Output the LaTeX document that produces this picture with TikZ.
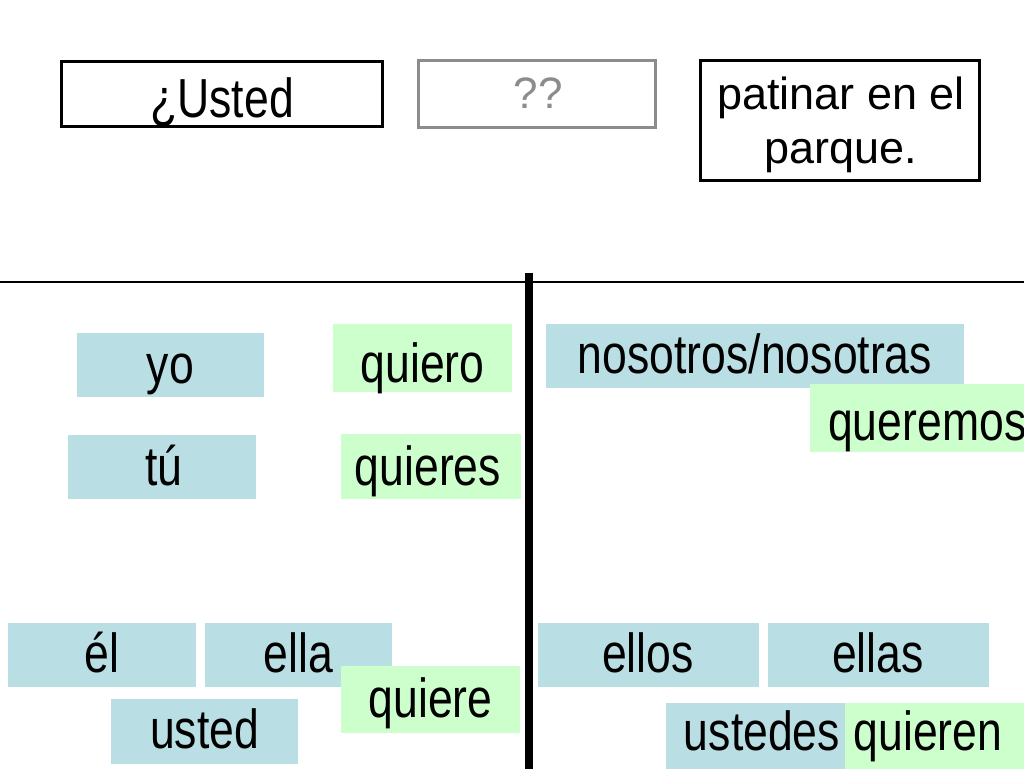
\documentclass[tikz,border=0pt]{standalone}
\usepackage{fontspec}
\setmainfont{Liberation Sans}
\definecolor{pblue}{RGB}{185,222,227}
\definecolor{pgreen}{RGB}{204,255,204}
\definecolor{pgray}{RGB}{140,140,140}
\newcommand{\nw}[1]{\scalebox{0.81}[1]{#1}}
\begin{document}
\begin{tikzpicture}[x=1pt,y=-1pt,
  tile/.style={draw=none, inner sep=0pt, outer sep=0pt},
  bluetile/.style={tile, fill=pblue},
  greentile/.style={tile, fill=pgreen},
  frame/.style={draw=black, line width=3pt, fill=white, inner sep=0pt},
  word/.style={inner sep=0pt, anchor=base, font=\fontsize{55}{55}\selectfont}]
\useasboundingbox (0,0) rectangle (1024,768);
\clip (0,0) rectangle (1024,768);
\fill[white] (0,0) rectangle (1024,768);

% top sentence
\node[frame, minimum width=321pt, minimum height=65pt] (b1) at (222,94) {};
\node[word] (b1t) at (222,117) {\nw{¿Usted}};
\node[frame, draw=pgray, minimum width=237pt, minimum height=67pt] (b2) at (537,94) {};
\node[word, text=pgray, font=\fontsize{44}{44}\selectfont] (b2t) at (538,108) {??};
\node[frame, minimum width=279pt, minimum height=120pt] (b3) at (840,120.5) {};
\node[word, font=\fontsize{45}{54}\selectfont] (b3t) at (841,109) {\begin{tabular}[t]{@{}c@{}}patinar en el\\parque.\end{tabular}};

% dividing lines
\coordinate (hl) at (0,282);
\coordinate (hr) at (1024,282);
\coordinate (vt) at (529,272.5);
\coordinate (vb) at (529,770);
\draw[line width=1.2pt] (hl) -- (hr);
\draw[line width=8pt] (vt) -- (vb);

% left side
\node[bluetile, minimum width=187pt, minimum height=64pt] (yo) at (170.5,365) {};
\node[word] (yot) at (170.5,383) {\nw{yo}};
\node[greentile, minimum width=179pt, minimum height=68pt] (quiero) at (422.5,358) {};
\node[word] (quierot) at (422.5,382) {\nw{quiero}};
\node[bluetile, minimum width=188pt, minimum height=64pt] (tu) at (162,467) {};
\node[word] (tut) at (164,485) {\nw{tú}};
\node[greentile, minimum width=180pt, minimum height=65pt] (quieres) at (430.5,466.5) {};
\node[word] (quierest) at (428,485) {\nw{quieres}};
\node[bluetile, minimum width=188pt, minimum height=64pt] (el) at (102,655) {};
\node[word] (elt) at (102,672) {\nw{él}};
\node[bluetile, minimum width=187pt, minimum height=64pt] (ella) at (298.5,655) {};
\node[word] (ellat) at (298.5,672) {\nw{ella}};
\node[bluetile, minimum width=187pt, minimum height=65pt] (usted) at (204.5,731.5) {};
\node[word] (ustedt) at (204.5,748) {\nw{usted}};
\node[greentile, minimum width=179pt, minimum height=67pt] (quiere) at (430.5,699.5) {};
\node[word] (quieret) at (430.5,717) {\nw{quiere}};

% right side
\node[bluetile, minimum width=418pt, minimum height=64pt] (nos) at (755,356) {};
\node[word] (nost) at (755,373) {\nw{nosotros/nosotras}};
\node[greentile, minimum width=240pt, minimum height=68pt] (queremos) at (930,418) {};
\node[word, anchor=base west] (queremost) at (828,440) {\nw{queremos}};
\node[bluetile, minimum width=221pt, minimum height=64pt] (ellos) at (648.5,655) {};
\node[word] (ellost) at (648,672) {\nw{ellos}};
\node[bluetile, minimum width=221pt, minimum height=64pt] (ellas) at (878.5,655) {};
\node[word] (ellast) at (878,672) {\nw{ellas}};
\node[bluetile, minimum width=192pt, minimum height=68pt] (ustedes) at (762,737) {};
\node[word] (ustedest) at (762,750) {\nw{ustedes}};
\node[greentile, minimum width=181pt, minimum height=68pt] (quieren) at (935.5,737) {};
\node[word] (quierent) at (928,750) {\nw{quieren}};
\end{tikzpicture}
\end{document}
